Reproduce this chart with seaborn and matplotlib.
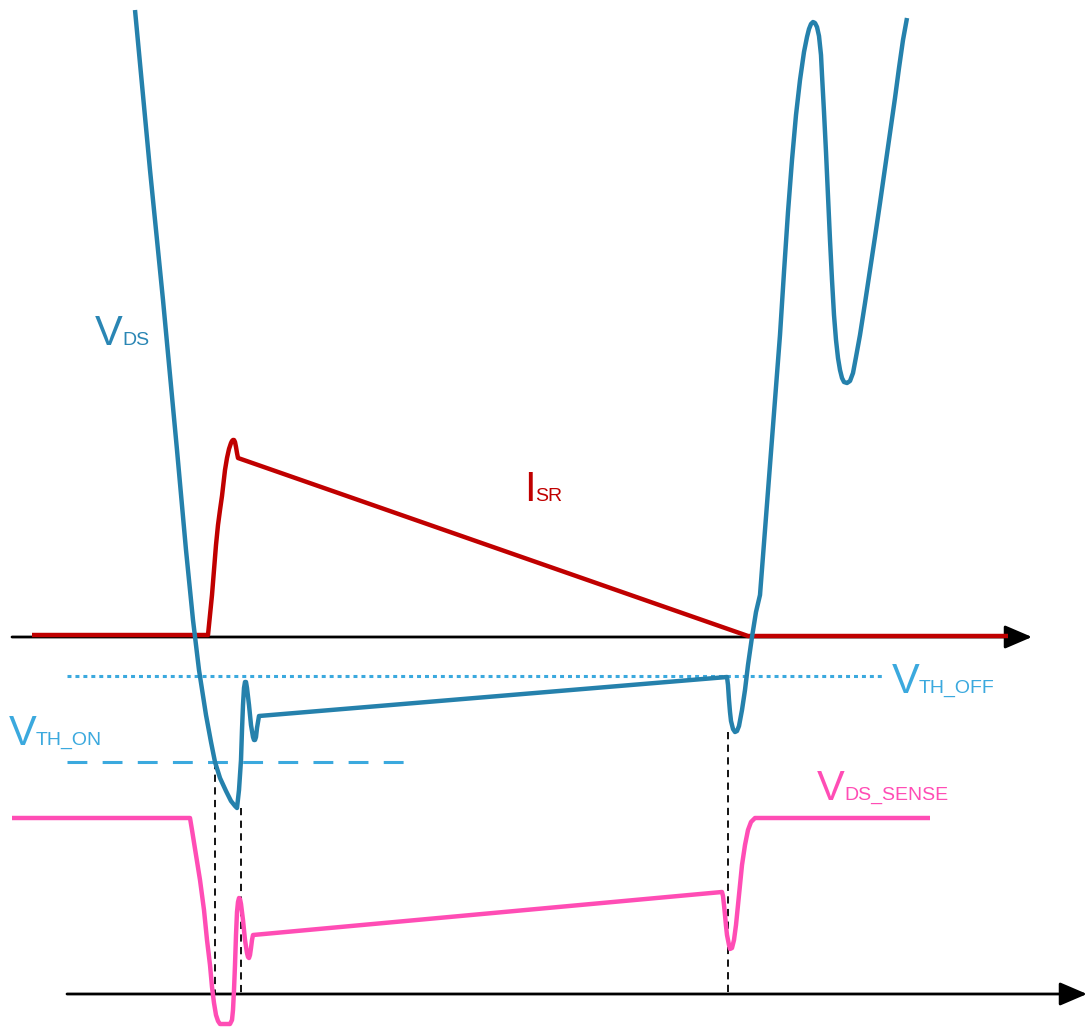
import numpy as np
import pandas as pd
import matplotlib
matplotlib.use("Agg")
import matplotlib.pyplot as plt
import seaborn as sns

# ---- waveform samples (x = time, y = level, screen units, y grows downward) ----
vds_x = [135, 150, 163, 177, 186, 193, 199, 206, 211, 215, 220, 226, 231, 235, 237,
         239, 241, 242, 243, 244, 245, 246, 247, 249, 251, 253, 254, 255, 256, 257, 259,
         727, 728, 729, 730, 731, 733, 735, 737, 739, 742, 745, 748, 752, 756, 760,
         765, 770, 775, 780, 784, 788, 792, 796, 800, 804, 807, 809, 811,
         813, 815, 817, 819, 821, 822, 824, 826, 828, 830, 832, 834, 836, 838, 840, 842, 844,
         847, 850, 853, 856, 860, 865, 870, 875, 880, 885, 890, 895, 899, 903, 907]
vds_y = [10, 170, 300, 450, 550, 620, 670, 715, 742, 762, 778, 791, 801, 806, 808,
         790, 760, 730, 705, 688, 682, 682, 688, 705, 725, 737, 740, 740, 737, 728, 716,
         677, 685, 700, 712, 721, 729, 732, 731, 726, 710, 690, 665, 637, 612, 595,
         530, 465, 400, 335, 272, 212, 160, 115, 80, 52, 37, 29, 24,
         22, 23, 27, 36, 55, 75, 112, 152, 196, 240, 280, 315, 340, 358, 370, 378, 382,
         383, 381, 373, 357, 335, 303, 270, 237, 203, 168, 133, 98, 68, 40, 18]

isr_x = [32, 208, 210, 212, 214, 216, 218, 220, 222, 225, 227, 229, 231, 232, 233,
         234, 235, 236, 237, 238, 748, 1008]
isr_y = [635, 635, 615, 595, 570, 545, 525, 510, 496, 470, 458, 449, 443, 441, 440,
         440, 442, 447, 453, 458, 636, 636]

sense_x = [12, 190, 192, 196, 200, 204, 207, 210, 212, 214, 216, 218, 220, 225, 230,
           232, 233, 234, 235, 236, 237, 238, 239, 240, 241, 243, 245, 247, 248, 249,
           250, 251, 252, 253, 722, 723, 724, 725, 726, 727, 729, 730, 732, 734, 736,
           738, 740, 742, 745, 748, 751, 755, 930]
sense_y = [818, 818, 830, 855, 880, 910, 940, 965, 987, 1003, 1015, 1021, 1024, 1024, 1024,
           1020, 1010, 990, 965, 935, 912, 902, 898, 899, 904, 920, 940, 953, 957, 958,
           955, 948, 940, 935, 892, 896, 905, 915, 926, 935, 945, 949, 948, 940, 925,
           905, 885, 865, 845, 830, 822, 818, 818]

# thresholds
vth_off_level = 676
vth_off_span = (67, 885)
vth_on_level = 762
vth_on_span = (67, 415)

# switching instants (dashed markers): time, top level
marker_t = [215, 241, 728]
marker_top = [762, 808, 732]

# time axes: level, start, end
axis_levels = [637, 994]
axis_starts = [12, 67]
axis_ends = [1032, 1087]

# colours
C_VDS = "#2581AC"
C_VDS_LBL = "#2A86B4"
C_ISR = "#C00000"
C_SENSE = "#FF4DB5"
C_TH = "#3BA9DE"

W, H = 1091, 1027
sns.set_theme(style="white")
plt.rcParams["font.family"] = ["Liberation Sans", "DejaVu Sans"]
plt.rcParams["lines.solid_joinstyle"] = "round"
plt.rcParams["lines.solid_capstyle"] = "butt"

fig = plt.figure(figsize=(W / 100, H / 100), dpi=100)
ax = fig.add_axes([0, 0, 1, 1])

# time axes with arrow heads
for lvl, x0, x1 in zip(axis_levels, axis_starts, axis_ends):
    ax.annotate("", xy=(x1, lvl), xytext=(x0, lvl),
                arrowprops=dict(arrowstyle="-|>,head_length=1.4,head_width=0.6",
                                color="black", lw=2.0, shrinkA=0, shrinkB=0),
                zorder=2)

# threshold lines
sns.lineplot(x=list(vth_off_span), y=[vth_off_level] * 2, ax=ax, color=C_TH,
             lw=2.2, linestyle=(0, (1.3, 1.3)), zorder=3)
sns.lineplot(x=list(vth_on_span), y=[vth_on_level] * 2, ax=ax, color=C_TH,
             lw=2.2, linestyle=(0, (6.5, 5)), zorder=3)

# switching instant markers
for t, top in zip(marker_t, marker_top):
    ax.plot([t, t], [top, axis_levels[1]], color="black", lw=1.3,
            linestyle=(0, (4, 3)), zorder=2)

# waveforms
df_isr = pd.DataFrame({"t": isr_x, "v": isr_y})
df_vds = pd.DataFrame({"t": vds_x, "v": vds_y})
df_sense = pd.DataFrame({"t": sense_x, "v": sense_y})

sns.lineplot(data=df_isr, x="t", y="v", sort=False, estimator=None, ax=ax,
             color=C_ISR, lw=3.2, zorder=4)
sns.lineplot(data=df_vds, x="t", y="v", sort=False, estimator=None, ax=ax,
             color=C_VDS, lw=3.2, zorder=5)
sns.lineplot(data=df_sense, x="t", y="v", sort=False, estimator=None, ax=ax,
             color=C_SENSE, lw=3.2, zorder=5)

ax.set_xlim(0, W)
ax.set_ylim(H, 0)
ax.axis("off")


def label(x, y, main, sub, color, sub_dx):
    ax.text(x, y, main, fontsize=30, color=color, ha="left", va="baseline")
    ax.text(x + sub_dx, y, sub, fontsize=14, color=color, ha="left",
            va="baseline")


label(95, 345, "V", "DS", C_VDS_LBL, 27)
label(524, 501, "I", "SR", C_ISR, 11)
label(9, 745, "V", "TH_ON", C_TH, 27)
label(892, 693, "V", "TH_OFF", C_TH, 27)
label(817, 800, "V", "DS_SENSE", C_SENSE, 27)

fig.savefig("out.png", dpi=100)
